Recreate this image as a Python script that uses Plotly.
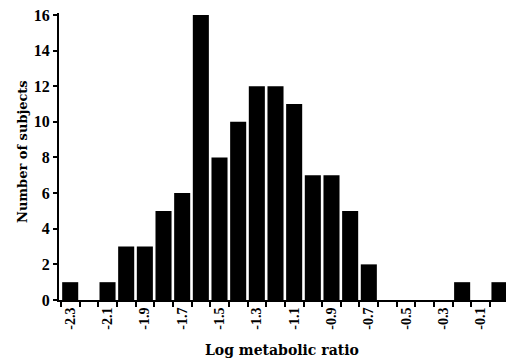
import plotly.graph_objects as go

bins = [-2.3, -2.2, -2.1, -2.0, -1.9, -1.8, -1.7, -1.6, -1.5, -1.4, -1.3, -1.2,
        -1.1, -1.0, -0.9, -0.8, -0.7, -0.6, -0.5, -0.4, -0.3, -0.2, -0.1, 0.0]
counts = [1, 0, 1, 3, 3, 5, 6, 16, 8, 10, 12, 12,
          11, 7, 7, 5, 2, 0, 0, 0, 0, 1, 0, 1]
x_tick_vals = [-2.3, -2.1, -1.9, -1.7, -1.5, -1.3, -1.1, -0.9, -0.7, -0.5, -0.3, -0.1]
x_tick_text = ["-2.3", "-2.1", "-1.9", "-1.7", "-1.5", "-1.3", "-1.1", "-0.9", "-0.7", "-0.5", "-0.3", "-0.1"]
y_tick_vals = [0, 2, 4, 6, 8, 10, 12, 14, 16]
x_title = "Log metabolic ratio"
y_title = "Number of subjects"

font = "Liberation Serif"
title_font = "DejaVu Serif"

W, H = 506, 359
L, R, T, B = 59, 0, 13, 359 - 300
pw, ph = W - L - R, H - T - B

fig = go.Figure(go.Bar(x=bins, y=counts, marker=dict(color="black", line=dict(width=0))))

fig.update_layout(
    width=W, height=H,
    margin=dict(l=L, r=R, t=T, b=B, autoexpand=False),
    plot_bgcolor="white", paper_bgcolor="white",
    bargap=0.14,
    showlegend=False,
    font=dict(family=font, color="black"),
    annotations=[
        dict(text="<b>" + x_title + "</b>", xref="paper", yref="paper",
             x=(282 - L) / pw, y=-(350 - (H - B)) / ph, xanchor="center", yanchor="middle",
             showarrow=False, font=dict(family=title_font, size=14, color="black")),
        dict(text="<b>" + y_title + "</b>", xref="paper", yref="paper",
             x=(22 - L) / pw, y=1 - (152 - T) / ph, xanchor="center", yanchor="middle",
             textangle=-90, showarrow=False, font=dict(family=title_font, size=13, color="black")),
    ],
)
fig.update_xaxes(
    range=[-2.36, 0.035], automargin=False,
    tickmode="array", tickvals=x_tick_vals, ticktext=x_tick_text,
    tickangle=-90, ticks="", ticklen=0,
    tickfont=dict(family=font, size=14, color="black", weight="bold"),
    ticklabeloverflow="allow",
    showline=True, linecolor="black", linewidth=2,
    showgrid=False, zeroline=False,
    minor=dict(tick0=-2.35, dtick=0.1, ticks="outside", ticklen=5, tickwidth=2, tickcolor="black", showgrid=False),
)
fig.update_yaxes(
    range=[0, 16.11], automargin=False,
    tickmode="array", tickvals=y_tick_vals,
    ticks="outside", ticklen=4, tickwidth=2, tickcolor="black",
    tickfont=dict(family=font, size=16, color="black", weight="bold"),
    ticklabeloverflow="allow",
    showline=True, linecolor="black", linewidth=2,
    showgrid=False, zeroline=False,
)

fig.write_html(
    "out.html",
    config={"displayModeBar": False},
    post_script="document.body.style.margin='0';document.body.style.overflow='hidden';",
)
